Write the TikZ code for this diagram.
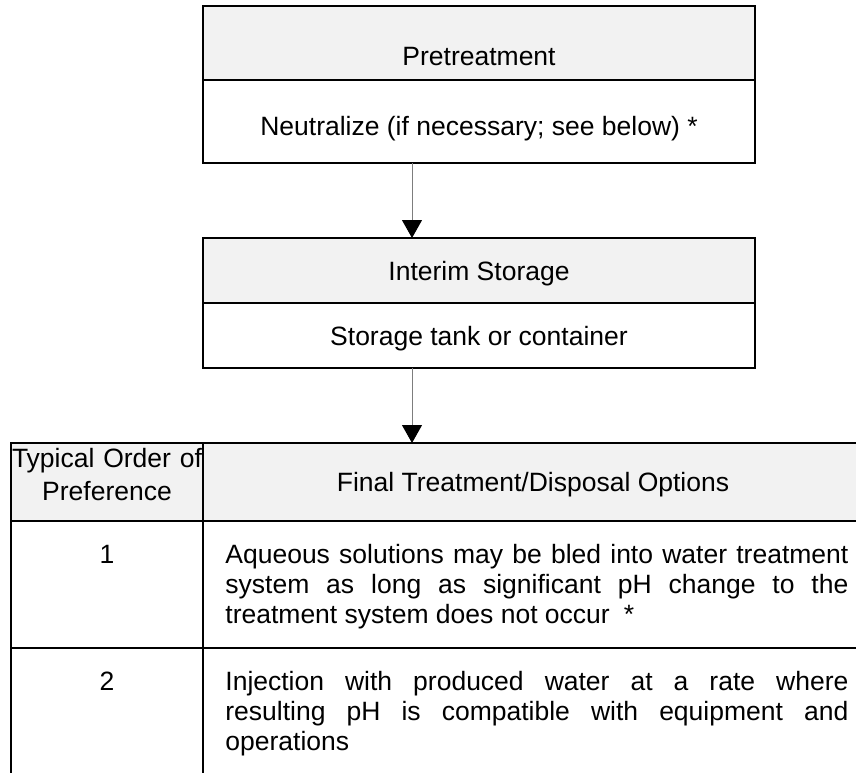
\documentclass[tikz,border=0pt]{standalone}
\usepackage{fontspec}
\setmainfont{Liberation Sans}
\usetikzlibrary{positioning, arrows.meta}
\definecolor{hdrgray}{RGB}{242,242,242}
\definecolor{arrgray}{RGB}{125,125,125}

\begin{document}
\begin{tikzpicture}[x=0.5pt, y=-0.5pt,
  cell/.style={rectangle, draw=black, line width=1.1pt, outer sep=0pt,
               inner sep=0pt, anchor=north west},
  hdr/.style={cell, fill=hdrgray},
  txt/.style={anchor=base, inner sep=0pt, font=\fontsize{13.25}{15}\selectfont},
  para/.style={txt, anchor=base west, text width=311.5pt, align=justify},
  arr/.style={-{Triangle[length=9pt, width=10pt, color=black]}, line width=0.5pt, color=arrgray}
]
  \clip (0,0) rectangle (856,772);
  % pretreatment
  \node[hdr, minimum width=276pt, minimum height=37pt] (pre) at (203,6) {};
  \node[cell, below=0pt of pre, minimum width=276pt, minimum height=41.5pt] (preb) {};
  \node[txt] (pret) at (479,65)  {Pretreatment};
  \node[txt] (neut) at (479,135) {Neutralize (if necessary; see below) *};
  % interim storage
  \node[hdr, minimum width=276pt, minimum height=32.5pt] (sto) at (203,238) {};
  \node[cell, below=0pt of sto, minimum width=276pt, minimum height=32.5pt] (stob) {};
  \node[txt] (stot)  at (479,280) {Interim Storage};
  \node[txt] (tank)  at (479,345) {Storage tank or container};
  % options table
  \node[hdr, minimum width=96pt, minimum height=39pt] (thA) at (11,443) {};
  \node[hdr, right=0pt of thA, minimum width=331.5pt, minimum height=39pt] (thB) {};
  \node[cell, below=0pt of thA, minimum width=96pt, minimum height=63.5pt] (r1A) {};
  \node[cell, right=0pt of r1A, minimum width=331.5pt, minimum height=63.5pt] (r1B) {};
  \node[cell, below=0pt of r1A, minimum width=96pt, minimum height=70pt] (r2A) {};
  \node[cell, right=0pt of r2A, minimum width=331.5pt, minimum height=70pt] (r2B) {};
  \node[txt, text width=96pt, align=center] (ordt) at (107,467) {Typical Order of\\[1.5pt]Preference};
  \node[txt] (optt) at (533,491) {Final Treatment/Disposal Options};
  \node[txt] (one) at (107,563) {1};
  \node[txt] (two) at (107,690) {2};
  \node[para] (opt1) at (225,563) {Aqueous solutions may be bled into water treatment\linebreak
    system as long as significant pH change to the\linebreak
    treatment system does not occur\hspace{7pt}*};
  \node[para] (opt2) at (225,690) {Injection with produced water at a rate where\linebreak
    resulting pH is compatible with equipment and\linebreak operations};
  % arrows
  \coordinate (ax) at (412,0);
  \draw[arr] (preb.south -| ax) -- (sto.north -| ax);
  \draw[arr] (stob.south -| ax) -- (thB.north -| ax);
\end{tikzpicture}
\end{document}
